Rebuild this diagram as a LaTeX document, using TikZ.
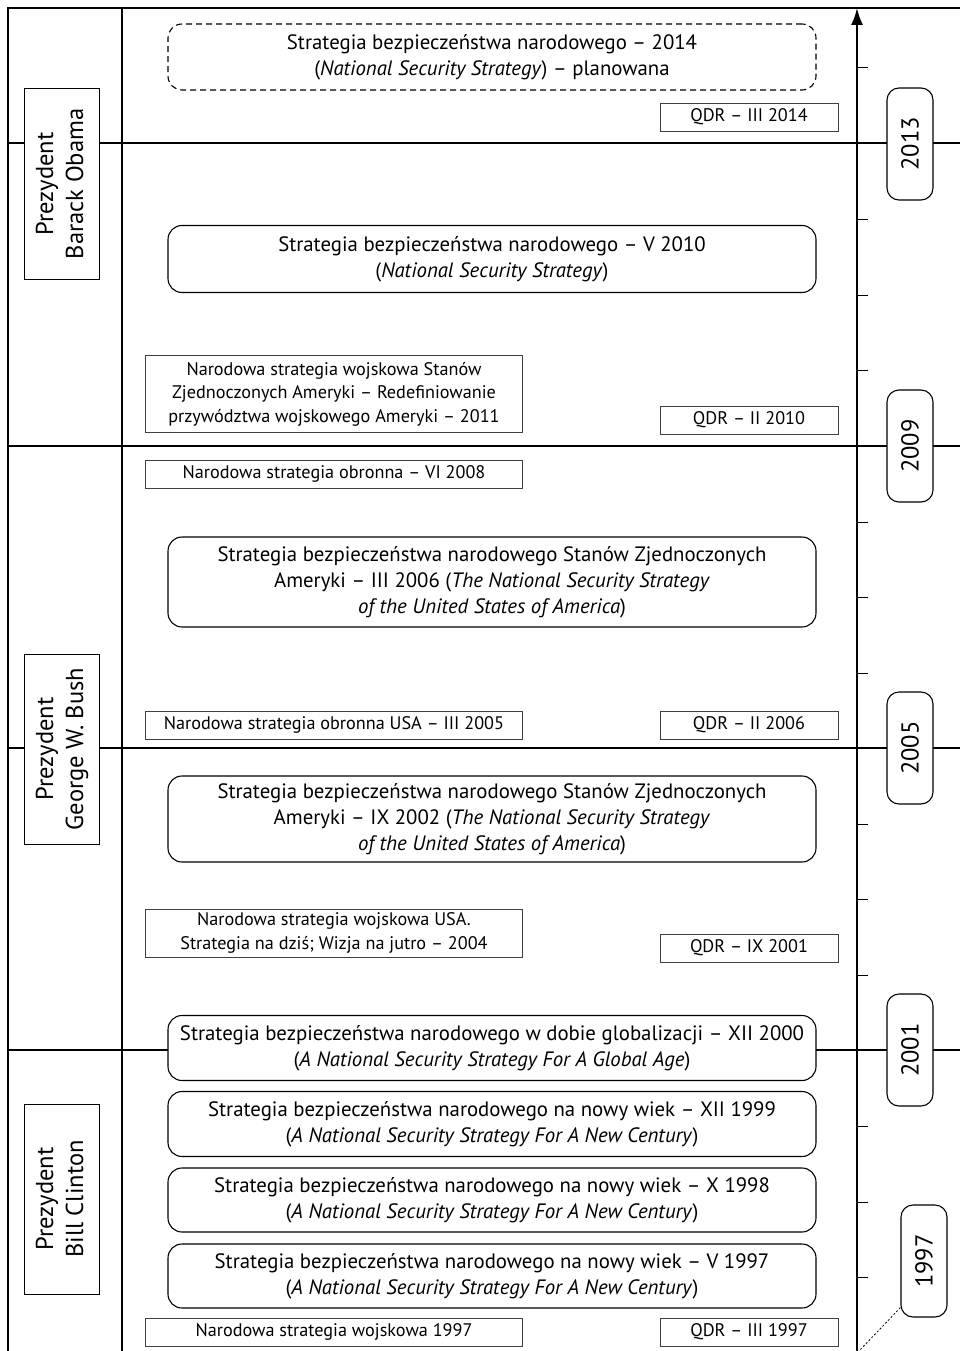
\documentclass[tikz,border=0pt]{standalone}
\usepackage{fontspec}
\setmainfont{PT Sans}
\usetikzlibrary{arrows.meta}
\tikzset{
  nssbox/.style={draw,line width=1.1pt,fill=white,rounded corners=14pt,minimum width=648pt,align=center,inner sep=0pt,font=\fontsize{20.8}{26}\selectfont},
  docbox/.style={draw=black!75,line width=0.9pt,fill=white,minimum width=377pt,minimum height=28pt,align=center,inner sep=0pt,font=\fontsize{18.2}{23.5}\selectfont},
  qdrbox/.style={docbox,minimum width=178pt},
  yearbox/.style={draw,line width=1.1pt,fill=white,rounded corners=12pt,minimum width=46pt,minimum height=112pt,inner sep=0pt,font=\fontsize{24.5}{26}\selectfont},
  presbox/.style={draw,line width=1pt,fill=white,minimum width=75pt,minimum height=190pt,inner sep=0pt,font=\fontsize{24.5}{30}\selectfont}
}
\begin{document}
\begin{tikzpicture}[x=1pt,y=-1pt]
  \useasboundingbox (0,0) rectangle (960,1351);
  % frame
  \draw[line width=1.2pt] (8,1351) -- (8,8) -- (960,8);
  \draw[line width=1.2pt] (122,8) -- (122,1351);
  \foreach \y in {143,446,748,1050}
    \draw[line width=1.2pt] (8,\y) -- (960,\y);
  % time axis
  \draw[line width=2pt,-{Latex[length=17pt,width=12pt]}] (857,1351) -- (857,8);
  \foreach \y in {68,219,295,370,522,597,673,824,899,975,1126,1202,1277}
    \draw[line width=1pt] (857,\y) -- (868,\y);
  \coordinate (y97pt) at (858,1352);

  % presidents
  \node[presbox] (obama) at (62,184) {\rotatebox{90}{\begin{tabular}{@{}c@{}}Prezydent\\Barack Obama\end{tabular}}};
  \node[presbox] (bush) at (62,749) {\rotatebox{90}{\begin{tabular}{@{}c@{}}Prezydent\\George W. Bush\end{tabular}}};
  \node[presbox] (clinton) at (62,1199) {\rotatebox{90}{\begin{tabular}{@{}c@{}}Prezydent\\Bill Clinton\end{tabular}}};

  % years
  \node[yearbox] (y2013) at (910,144) {\rotatebox{90}{2013}};
  \node[yearbox] (y2009) at (910,446) {\rotatebox{90}{2009}};
  \node[yearbox] (y2005) at (910,748) {\rotatebox{90}{2005}};
  \node[yearbox] (y2001) at (910,1050) {\rotatebox{90}{2001}};
  \node[yearbox] (y1997) at (924,1261) {\rotatebox{90}{1997}};
  \draw[dash pattern=on 2pt off 2pt,line width=0.8pt] ([yshift=10pt]y1997.south west) -- (y97pt);

  % strategies
  \node[nssbox,dash pattern=on 6pt off 4pt,minimum height=66pt] (nss2014) at (492,57) {Strategia bezpieczeństwa narodowego – 2014\\(\textit{National Security Strategy}) – planowana};
  \node[qdrbox] (qdr2014) at (749,117) {QDR – III 2014};
  \node[nssbox,minimum height=67pt] (nss2010) at (492,259) {Strategia bezpieczeństwa narodowego – V 2010\\(\textit{National Security Strategy})};
  \node[docbox,minimum height=77pt] (nms2011) at (334,394) {Narodowa strategia wojskowa Stanów\\Zjednoczonych Ameryki – Redefiniowanie\\przywództwa wojskowego Ameryki – 2011};
  \node[qdrbox] (qdr2010) at (749,420) {QDR – II 2010};
  \node[docbox] (nds2008) at (334,474) {Narodowa strategia obronna – VI 2008};
  \node[nssbox,minimum height=90pt] (nss2006) at (492,582) {Strategia bezpieczeństwa narodowego Stanów Zjednoczonych\\Ameryki – III 2006 (\textit{The National Security Strategy}\\\textit{of the United States of America})};
  \node[docbox] (nds2005) at (334,725) {Narodowa strategia obronna USA – III 2005};
  \node[qdrbox] (qdr2006) at (749,725) {QDR – II 2006};
  \node[nssbox,minimum height=86pt] (nss2002) at (492,819) {Strategia bezpieczeństwa narodowego Stanów Zjednoczonych\\Ameryki – IX 2002 (\textit{The National Security Strategy}\\\textit{of the United States of America})};
  \node[docbox,minimum height=48pt] (nms2004) at (334,933) {Narodowa strategia wojskowa USA.\\Strategia na dziś; Wizja na jutro – 2004};
  \node[qdrbox] (qdr2001) at (749,948) {QDR – IX 2001};
  \node[nssbox,minimum height=65pt] (nss2000) at (492,1048) {Strategia bezpieczeństwa narodowego w dobie globalizacji – XII 2000\\(\textit{A National Security Strategy For A Global Age})};
  \node[nssbox,minimum height=65pt] (nss1999) at (492,1124) {Strategia bezpieczeństwa narodowego na nowy wiek – XII 1999\\(\textit{A National Security Strategy For A New Century})};
  \node[nssbox,minimum height=64pt] (nss1998) at (492,1200) {Strategia bezpieczeństwa narodowego na nowy wiek – X 1998\\(\textit{A National Security Strategy For A New Century})};
  \node[nssbox,minimum height=64pt] (nss1997) at (492,1276) {Strategia bezpieczeństwa narodowego na nowy wiek – V 1997\\(\textit{A National Security Strategy For A New Century})};
  \node[docbox] (nms1997) at (334,1332) {Narodowa strategia wojskowa 1997};
  \node[qdrbox] (qdr1997) at (749,1332) {QDR – III 1997};
\end{tikzpicture}
\end{document}
